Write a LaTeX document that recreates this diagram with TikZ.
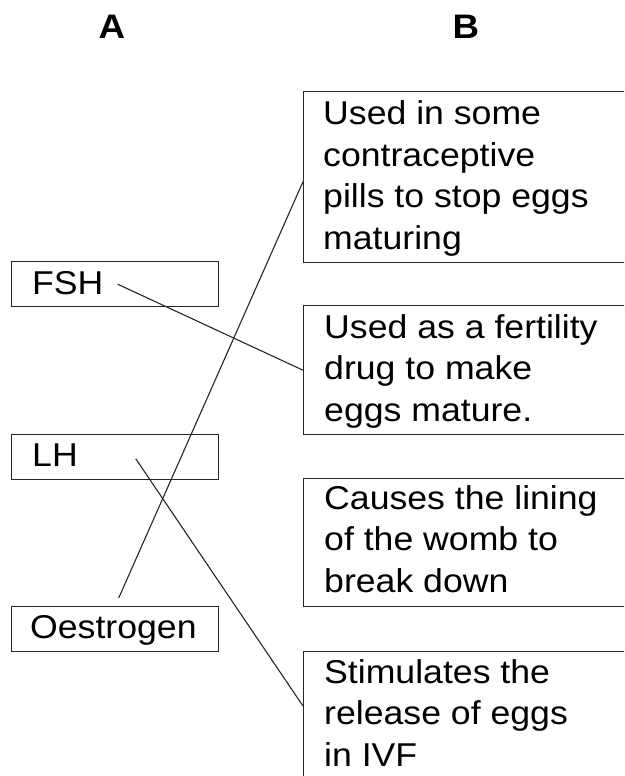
\documentclass[tikz,border=0pt]{standalone}
\usepackage{fontspec}
\setmainfont{Liberation Sans}[FakeStretch=1.08]
\begin{document}
\begin{tikzpicture}[x=1pt,y=-1pt,
  box/.style={draw=black!85, line width=1.4pt, rectangle, inner sep=0pt, anchor=north west},
  txt/.style={anchor=base west, inner sep=0pt, align=left, font=\fontsize{33}{41.5}\selectfont},
  link/.style={draw=black!85, line width=1.1pt},
  head/.style={anchor=base, inner sep=0pt, font=\fontsize{34}{40}\selectfont\bfseries}]
\useasboundingbox (0,0) rectangle (624,776);
\clip (0,0) rectangle (624,776);
% headings
\node[head] (hA) at (112,38) {A};
\node[head] (hB) at (466,38) {B};
% column B boxes
\node[box, minimum width=340pt, minimum height=171pt] (b1) at (303,91) {};
\node[box, minimum width=340pt, minimum height=129pt] (b2) at (303,305) {};
\node[box, minimum width=340pt, minimum height=128pt] (b3) at (303,478) {};
\node[box, minimum width=340pt, minimum height=200pt] (b4) at (303,651) {};
% multi-line texts: anchored at the baseline of their last line
\node[txt] (t1) at (323,249) {Used in some\\contraceptive\\pills to stop eggs\\maturing};
\node[txt] (t2) at (324,421) {Used as a fertility\\drug to make\\eggs mature.};
\node[txt] (t3) at (324,592) {Causes the lining\\of the womb to\\break down};
\node[txt] (t4) at (324,766) {Stimulates the\\release of eggs\\in IVF};
% column A boxes
\node[box, minimum width=207pt, minimum height=45pt] (fsh) at (11,261) {};
\node[box, minimum width=207pt, minimum height=45pt] (lh) at (11,434) {};
\node[box, minimum width=207pt, minimum height=45pt] (oes) at (11,606) {};
\node[txt] (tfsh) at (32,294) {FSH};
\node[txt] (tlh) at (32,466) {LH};
\node[txt] (toes) at (30,638) {Oestrogen};
% connectors
\draw[link] ([xshift=2.5pt]fsh.center) -- (b2.west);
\draw[link] ([xshift=20.5pt,yshift=-1.5pt]lh.center) -- ([yshift=-55pt]b4.north west);
\draw[link] ([xshift=3.5pt,yshift=8pt]oes.north) -- ([yshift=-4.5pt]b1.west);
\end{tikzpicture}
\end{document}
